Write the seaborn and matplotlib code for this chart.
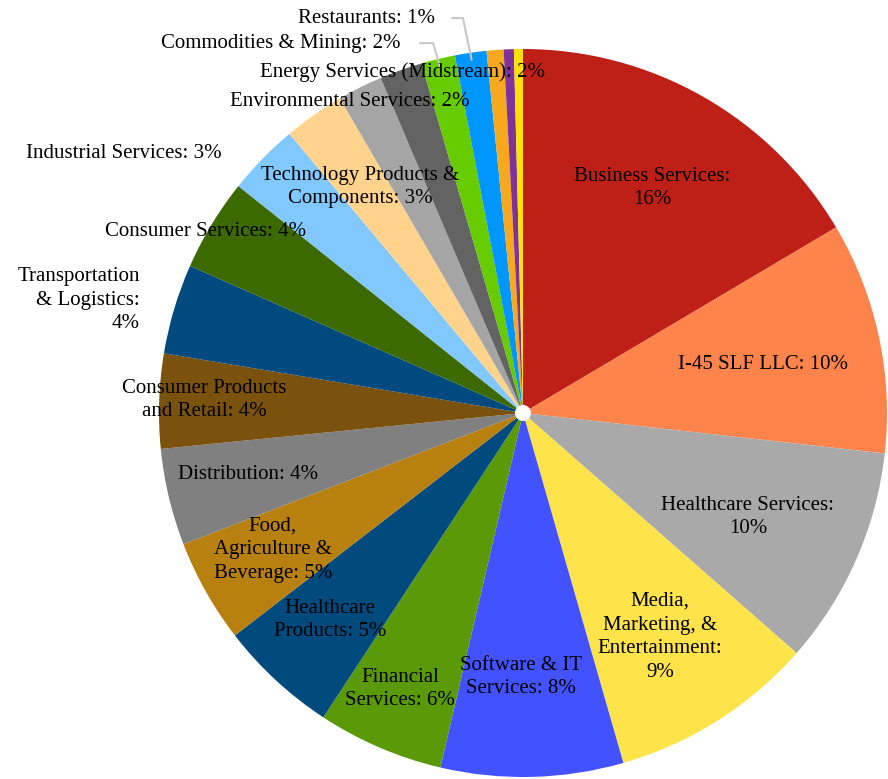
import numpy as np
import matplotlib
matplotlib.use("Agg")
import matplotlib.pyplot as plt
import seaborn as sns

# slice data, clockwise from 12 o'clock
categories = [
    "Business Services", "I-45 SLF LLC", "Healthcare Services",
    "Media, Marketing, & Entertainment", "Software & IT Services",
    "Financial Services", "Healthcare Products", "Food, Agriculture & Beverage",
    "Distribution", "Consumer Products and Retail", "Transportation & Logistics",
    "Consumer Services", "Industrial Services", "Technology Products & Components",
    "Environmental Services", "Energy Services (Midstream)", "Commodities & Mining",
    "Restaurants", "Other A", "Other B", "Other C",
]
values = [16.5, 10.3, 9.7, 9.1, 8.1, 5.6, 5.3, 4.6, 4.3, 4.2, 4.0, 4.1,
          3.2, 2.7, 2.0, 1.9, 1.5, 1.4, 0.75, 0.45, 0.4]
label_texts = [
    "Business Services:\n16%", "I-45 SLF LLC: 10%", "Healthcare Services:\n10%",
    "Media,\nMarketing, &\nEntertainment:\n9%", "Software & IT\nServices: 8%",
    "Financial\nServices: 6%", "Healthcare\nProducts: 5%",
    "Food,\nAgriculture &\nBeverage: 5%", "Distribution: 4%",
    "Consumer Products\nand Retail: 4%", "Transportation\n& Logistics:\n4%",
    "Consumer Services: 4%", "Industrial Services: 3%",
    "Technology Products &\nComponents: 3%", "Environmental Services: 2%",
    "Energy Services (Midstream): 2%", "Commodities & Mining: 2%",
    "Restaurants: 1%", None, None, None,
]
colors = [
    "#BE2017", "#FF844C", "#A9A9A9", "#FFE34B", "#4352FF", "#5A9A08",
    "#014A7E", "#B8800F", "#808080", "#7A520E", "#004A7F", "#3D6A00",
    "#80C8FF", "#FFD38B", "#A5A5A5", "#636363", "#66CC00", "#0096FF",
    "#F8A81C", "#7F3297", "#FFE100",
]

# label layout, in units of the pie radius
label_pos = {
    0: (0.354, 0.618, "center"), 1: (0.659, 0.132, "center"),
    2: (0.618, -0.286, "center"), 3: (0.376, -0.615, "center"),
    4: (-0.005, -0.725, "center"), 5: (-0.338, -0.758, "center"),
    6: (-0.530, -0.569, "center"), 7: (-0.687, -0.376, "center"),
    8: (-0.755, -0.170, "center"), 9: (-0.876, 0.036, "center"),
    10: (-1.052, 0.310, "right"), 11: (-0.871, 0.500, "center"),
    12: (-0.827, 0.712, "right"), 13: (-0.448, 0.621, "center"),
    14: (-0.475, 0.857, "center"), 15: (-0.332, 0.937, "center"),
    16: (-0.665, 1.016, "center"), 17: (-0.431, 1.085, "center"),
}
# leader lines: label end -> elbow -> slice
leaders = {16: [(-0.283, 1.016), (-0.247, 1.016)],
           17: [(-0.195, 1.085), (-0.165, 1.085)]}

sns.set_style("white")
plt.rcParams['font.family'] = ['Liberation Serif', 'DejaVu Serif']

fig = plt.figure(figsize=(8.88, 7.79), dpi=100)
ax = fig.add_axes([0, 0, 1, 1])
palette = sns.color_palette(colors)
wedges, _ = ax.pie(values, colors=palette, startangle=90, counterclock=False,
                   radius=1.0, wedgeprops=dict(linewidth=0))
ax.add_patch(plt.Circle((0, 0), 0.02, color="white", zorder=5))

for i, txt in enumerate(label_texts):
    if txt is None:
        continue
    x, y, ha = label_pos[i]
    ax.text(x, y, txt, ha=ha, va="center", fontsize=15, color="black",
            multialignment=ha, linespacing=1.33, zorder=6)
    if i in leaders:
        w = wedges[i]
        mid = np.deg2rad((w.theta1 + w.theta2) / 2)
        pts = leaders[i] + [(0.98 * np.cos(mid), 0.98 * np.sin(mid))]
        ax.plot([p[0] for p in pts], [p[1] for p in pts], color="#C8C8C8",
                lw=1.5, zorder=4)

ax.set_xlim(-523 / 364, (888 - 523) / 364)
ax.set_ylim(-(779 - 413) / 364, 413 / 364)
ax.set_aspect("auto")
ax.axis("off")
fig.savefig("out.png", dpi=100, facecolor="white")
